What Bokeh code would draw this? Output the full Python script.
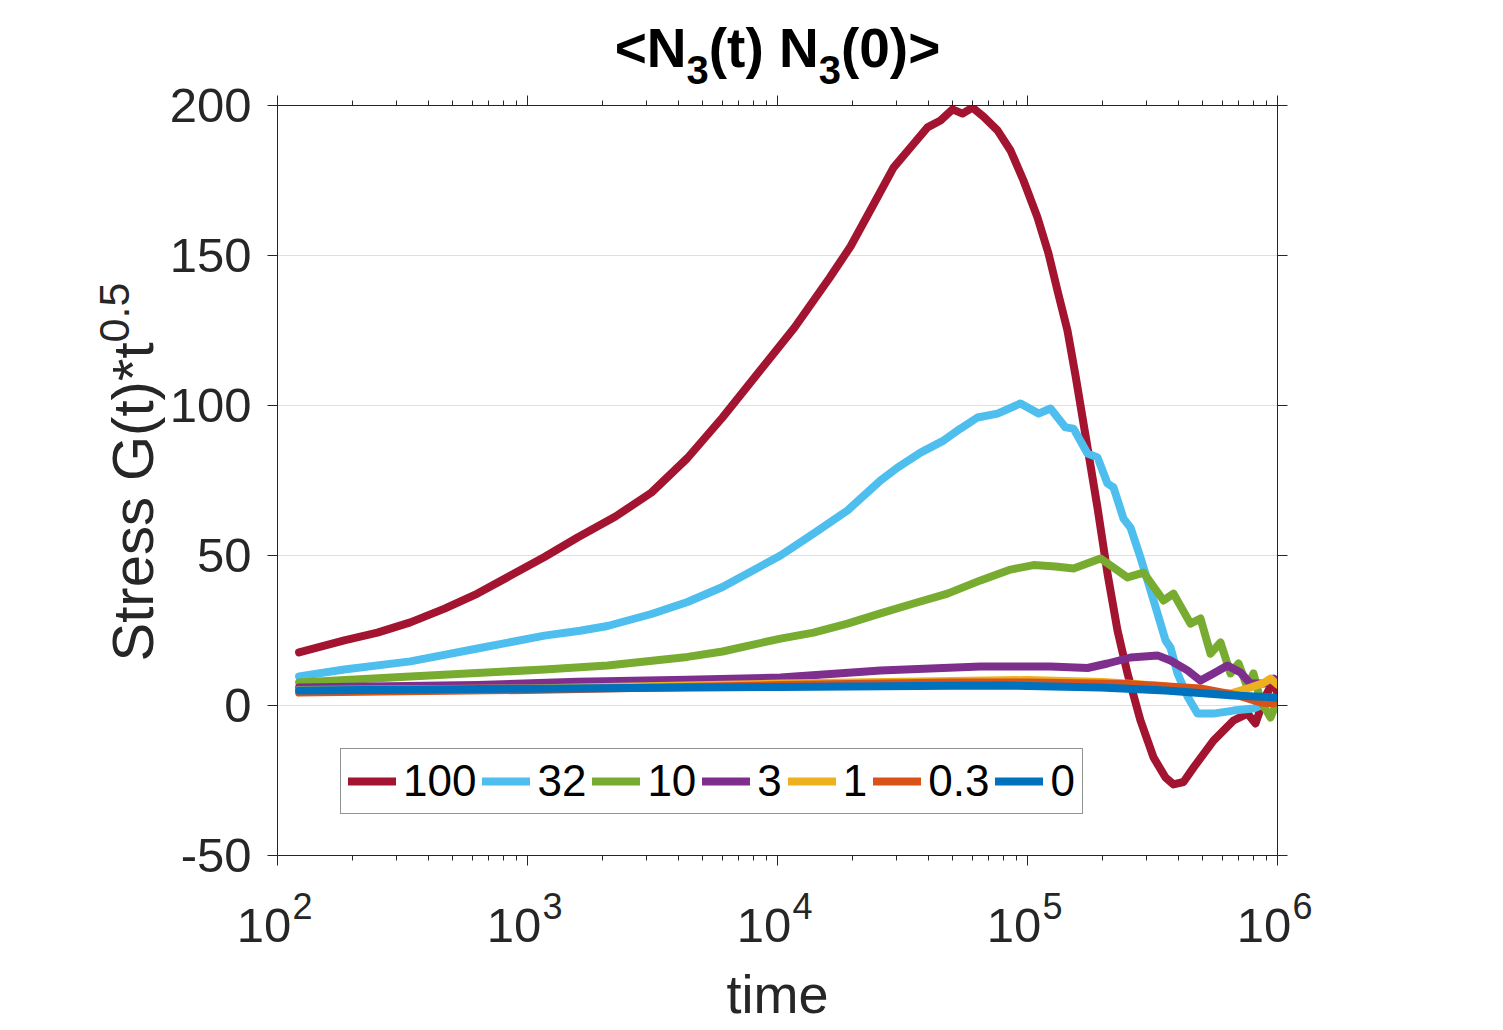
import math

from bokeh.plotting import figure
from bokeh.models import (LinearAxis, LogAxis, FixedTicker, CustomJSTickFormatter)
from bokeh.embed import file_html
from bokeh.resources import INLINE

# ---------------------------------------------------------------------------
# Data: stress autocorrelation G(t)*t^0.5 for several shear rates
# ---------------------------------------------------------------------------
rates = ["100", "32", "10", "3", "1", "0.3", "0"]
colors = ["#A2142F", "#4DBEEE", "#77AC30", "#7E2F8E", "#EDB120", "#D95319", "#0072BD"]

t_100 = [122, 185, 251, 340, 466, 631, 855, 1169, 1585, 2249, 3133, 4365, 6026,
         8395, 11700, 16140, 19590, 24210, 29110, 34040, 39810, 44870, 50120,
         54950, 60260, 66680, 75860, 85510, 96380, 109600, 121300, 131800,
         144500, 155600, 173800, 190500, 208900, 229100, 251200, 283100,
         319200, 356500, 383700, 420700, 461300, 554600, 666800, 758600,
         816600, 879000, 963800, 1000000]
g_100 = [17.7, 21.7, 24.3, 27.7, 32.3, 37.3, 43.3, 49.5, 56.0, 63.0, 71.0, 82.5,
         96.0, 111.0, 126.0, 142.5, 153.0, 167.0, 179.3, 186.0, 192.7, 195.0,
         198.7, 197.3, 199.3, 196.3, 191.7, 185.0, 175.0, 162.7, 150.7, 138.3,
         125.0, 110.0, 86.0, 66.0, 44.0, 25.0, 10.7, -5.0, -17.3, -24.0, -26.3,
         -25.5, -20.7, -11.7, -5.0, -2.7, -6.0, 1.7, 8.3, 4.0]

t_32 = [122, 185, 340, 631, 1169, 1622, 2089, 3133, 4365, 6026, 10280, 13930,
        19050, 25820, 30200, 37330, 46130, 53950, 63100, 75860, 93760, 110700,
        123600, 141900, 152800, 173800, 190500, 208900, 220800, 242100, 258200,
        283100, 302000, 331100, 356500, 373300, 398100, 436500, 478600, 554600,
        666800, 801700, 963800, 1000000]
g_32 = [9.7, 12.0, 14.7, 19.0, 23.3, 24.9, 26.5, 30.5, 34.5, 39.5, 50.0, 57.3,
        65.0, 75.0, 79.3, 84.3, 88.3, 92.3, 96.0, 97.3, 100.7, 97.3, 99.0, 92.7,
        92.3, 84.0, 82.7, 74.0, 72.7, 62.3, 59.3, 49.3, 41.7, 30.7, 21.7, 19.3,
        10.7, 3.0, -2.7, -2.7, -1.7, -1.0, 1.7, 0.5]

t_10 = [122, 340, 1169, 2089, 4365, 6026, 10280, 13930, 19050, 25820, 34990,
        47860, 64860, 85510, 105700, 129400, 152800, 195900, 220800, 251200,
        291100, 349900, 383700, 448700, 492000, 539500, 591600, 648600, 698200,
        758600, 801700, 855100, 937600, 1000000]
g_10 = [7.7, 9.7, 12.0, 13.3, 16.2, 18.0, 22.3, 24.3, 27.3, 30.7, 34.0, 37.3,
        41.7, 45.3, 46.8, 46.3, 45.7, 49.0, 46.0, 42.7, 44.3, 35.0, 37.3, 27.3,
        29.0, 17.3, 21.0, 10.7, 14.0, 6.0, 10.7, 1.7, -4.0, 1.7]

t_3 = [122, 631, 1585, 4365, 10280, 25820, 64860, 123600, 173800, 208900,
       258200, 331100, 373300, 436500, 492000, 554600, 631000, 711200, 779800,
       879000, 963800, 1000000]
g_3 = [6.0, 6.8, 7.9, 8.6, 9.3, 11.7, 13.0, 13.0, 12.5, 14.0, 16.0, 16.7, 15.0,
       11.7, 8.3, 10.7, 13.3, 11.0, 7.3, 7.3, 9.0, 8.0]

t_1 = [122, 1000, 10280, 50120, 100000, 200000, 350000, 492000, 648600, 780000,
       879000, 937600, 1000000]
g_1 = [5.2, 5.7, 7.3, 8.2, 8.5, 7.8, 6.5, 4.5, 4.0, 6.0, 7.5, 9.0, 7.0]

t_03 = [122, 1000, 10280, 50120, 100000, 250000, 492000, 700000, 855100, 963800,
        1000000]
g_03 = [4.3, 5.2, 6.8, 7.7, 7.7, 7.2, 5.7, 3.3, 1.0, 0.7, 1.5]

t_0 = [122, 1000, 10280, 50120, 80000, 195900, 356500, 666800, 963800, 1000000]
g_0 = [5.0, 5.6, 6.2, 6.6, 6.7, 6.0, 5.0, 3.3, 2.7, 2.5]

times = [t_100, t_32, t_10, t_3, t_1, t_03, t_0]
values = [g_100, g_32, g_10, g_3, g_1, g_03, g_0]

y_ticks = [-50, 0, 50, 100, 150, 200]
x_decades = [2, 3, 4, 5, 6]

# ---------------------------------------------------------------------------
# Layout
# ---------------------------------------------------------------------------
X0, X1 = 1e2, 1e6
Y0, Y1 = -50, 200
FRAME_W, FRAME_H = 1000, 750
LEFT, RIGHT, TOP, BOTTOM = 277, 226, 105, 175
INK = "#262626"
FONT = "Liberation Sans"
NBSP = "\u00a0"

TICK_SIZE, SUP_SIZE = 49, 36
XLABEL_SIZE = 54
YLABEL_SIZE, YLABEL_SUP = 58, 43
TITLE_SIZE, TITLE_SUB = 55, 40

# Helvetica/Arial advance widths (per 1000 em) used to lay out composed texts
REGULAR = {"0": 556, "1": 556, "2": 556, "3": 556, "4": 556, "5": 556, "6": 556,
           "7": 556, "8": 556, "9": 556, ".": 278, " ": 278, "S": 667, "t": 278,
           "r": 333, "e": 556, "s": 500, "G": 778, "(": 333, ")": 333, "*": 389}
BOLD = {"<": 584, ">": 584, "N": 722, "3": 556, "0": 556, "(": 333, ")": 333,
        "t": 333, " ": 278}


def text_width(s, size, bold=False):
    table = BOLD if bold else REGULAR
    return sum(table[c] for c in s) * size / 1000.0


def x_at(px):
    """Data x for a horizontal canvas position (log axis)."""
    lo, hi = math.log10(X0), math.log10(X1)
    return 10 ** (lo + (px - LEFT) / FRAME_W * (hi - lo))


def y_at(py):
    """Data y for a vertical canvas position."""
    return Y1 - (py - TOP) / FRAME_H * (Y1 - Y0)


p = figure(frame_width=FRAME_W, frame_height=FRAME_H,
           x_axis_type="log", x_range=(X0, X1), y_range=(Y0, Y1),
           min_border_left=LEFT, min_border_right=RIGHT,
           min_border_top=TOP, min_border_bottom=BOTTOM,
           output_backend="svg", toolbar_location=None,
           background_fill_color="white", border_fill_color="white",
           outline_line_color=None)


def list_formatter(labels):
    return CustomJSTickFormatter(args=dict(labels=labels),
                                 code="return labels[index] ?? ''")


blank = CustomJSTickFormatter(code="return ''")


def style_axis(ax, minor=True):
    ax.axis_line_color = INK
    ax.axis_line_width = 1
    ax.major_tick_line_color = INK
    ax.minor_tick_line_color = INK if minor else None
    ax.major_tick_in = 0
    ax.major_tick_out = 10
    ax.minor_tick_in = 0
    ax.minor_tick_out = 5 if minor else 0


def text_axis(side, ticks, labels, size, standoff, bold=False,
              orientation="horizontal", color=INK):
    """An axis without line or ticks that only carries text at given places."""
    cls = LogAxis if side in ("above", "below") else LinearAxis
    ax = cls(ticker=FixedTicker(ticks=ticks, minor_ticks=[]),
             formatter=list_formatter(labels),
             axis_line_color=None, major_tick_line_color=None,
             minor_tick_line_color=None, major_tick_in=0, major_tick_out=0,
             minor_tick_in=0, minor_tick_out=0,
             major_label_standoff=standoff, major_label_text_font=FONT,
             major_label_text_font_size=f"{size}px",
             major_label_text_font_style="bold" if bold else "normal",
             major_label_text_color=color,
             major_label_orientation=orientation)
    p.add_layout(ax, side)
    return ax


# ---- left axis with numeric tick labels
yax = p.yaxis[0]
yax.ticker = FixedTicker(ticks=y_ticks, minor_ticks=[])
yax.formatter = list_formatter([str(v) for v in y_ticks])
style_axis(yax, minor=False)
yax.major_label_text_font = FONT
yax.major_label_text_font_size = f"{TICK_SIZE}px"
yax.major_label_text_color = INK
yax.major_label_standoff = 16

# ---- bottom axis: tick marks plus the exponents of 10^k
decade_ticks = [10.0 ** k for k in x_decades]
minor_x = [m * 10.0 ** k for k in x_decades[:-1] for m in range(2, 10)]
xax = p.xaxis[0]
xax.ticker = FixedTicker(ticks=decade_ticks, minor_ticks=minor_x)
xax.formatter = list_formatter([NBSP * 5 + str(k) for k in x_decades])
style_axis(xax)
xax.major_label_text_font = FONT
xax.major_label_text_font_size = f"{SUP_SIZE}px"
xax.major_label_text_color = INK
xax.major_label_standoff = 20

# the "10" bases, and the axis title underneath
base_ax = text_axis("below", decade_ticks, ["10" + NBSP * 2] * len(x_decades),
                    TICK_SIZE, standoff=-32)
base_ax.axis_label = "time"
base_ax.axis_label_standoff = 9
base_ax.axis_label_text_font = FONT
base_ax.axis_label_text_font_size = f"{XLABEL_SIZE}px"
base_ax.axis_label_text_font_style = "normal"
base_ax.axis_label_text_color = INK

# ---- right and top axes close the box
rax = LinearAxis(ticker=FixedTicker(ticks=y_ticks, minor_ticks=[]), formatter=blank,
                 major_label_text_font_size="1px", major_label_standoff=0)
style_axis(rax, minor=False)
p.add_layout(rax, "right")
tax = LogAxis(ticker=FixedTicker(ticks=decade_ticks, minor_ticks=minor_x),
              formatter=blank, major_label_text_font_size="1px",
              major_label_standoff=0)
style_axis(tax)
p.add_layout(tax, "above")

# ---- y axis title: Stress G(t)*t^0.5 (reads upwards)
ylab_main, ylab_sup = "Stress G(t)*t", "0.5"
main_len = text_width(ylab_main, YLABEL_SIZE)
sup_len = text_width(ylab_sup, YLABEL_SUP)
y_start = 661
text_axis("left", [y_at(y_start - main_len / 2)], [ylab_main], YLABEL_SIZE,
          standoff=1, orientation="vertical")
text_axis("left", [y_at(y_start - main_len - sup_len / 2)], [ylab_sup], YLABEL_SUP,
          standoff=-32, orientation="vertical")

# ---- title: <N_3(t) N_3(0)>
pieces = [("<N", False), ("3", True), ("(t) N", False), ("3", True), ("(0)>", False)]
widths = [text_width(s, TITLE_SUB if sub else TITLE_SIZE, bold=True) for s, sub in pieces]
cursor = LEFT + FRAME_W / 2 - sum(widths) / 2
main_ticks, main_text, sub_ticks, sub_text = [], [], [], []
for (s, sub), w in zip(pieces, widths):
    centre = x_at(cursor + w / 2)
    if sub:
        sub_ticks.append(centre)
        sub_text.append(s)
    else:
        main_ticks.append(centre)
        main_text.append(s)
    cursor += w
text_axis("above", sub_ticks, sub_text, TITLE_SUB, standoff=12, bold=True, color="black")
text_axis("above", main_ticks, main_text, TITLE_SIZE, standoff=-26, bold=True,
          color="black")

# ---- grid
p.xgrid.visible = False
p.ygrid.ticker = FixedTicker(ticks=y_ticks, minor_ticks=[])
p.ygrid.grid_line_color = "#DFDFDF"
p.ygrid.grid_line_width = 1

# ---- curves
for name, t, g, c in zip(rates, times, values, colors):
    p.line(t, g, line_width=8, line_color=c, line_join="round",
           line_cap="round", legend_label=name)

leg = p.legend[0]
leg.orientation = "horizontal"
leg.location = (63, 41)
leg.label_text_font = FONT
leg.label_text_font_size = "44px"
leg.label_text_color = "black"
leg.glyph_width = 48
leg.glyph_height = 40
leg.label_standoff = 7
leg.spacing = 6
leg.padding = 7
leg.margin = 0
leg.border_line_color = INK
leg.border_line_width = 1
leg.background_fill_color = "white"
leg.background_fill_alpha = 1.0

open("out.html", "w").write(file_html(p, INLINE))
